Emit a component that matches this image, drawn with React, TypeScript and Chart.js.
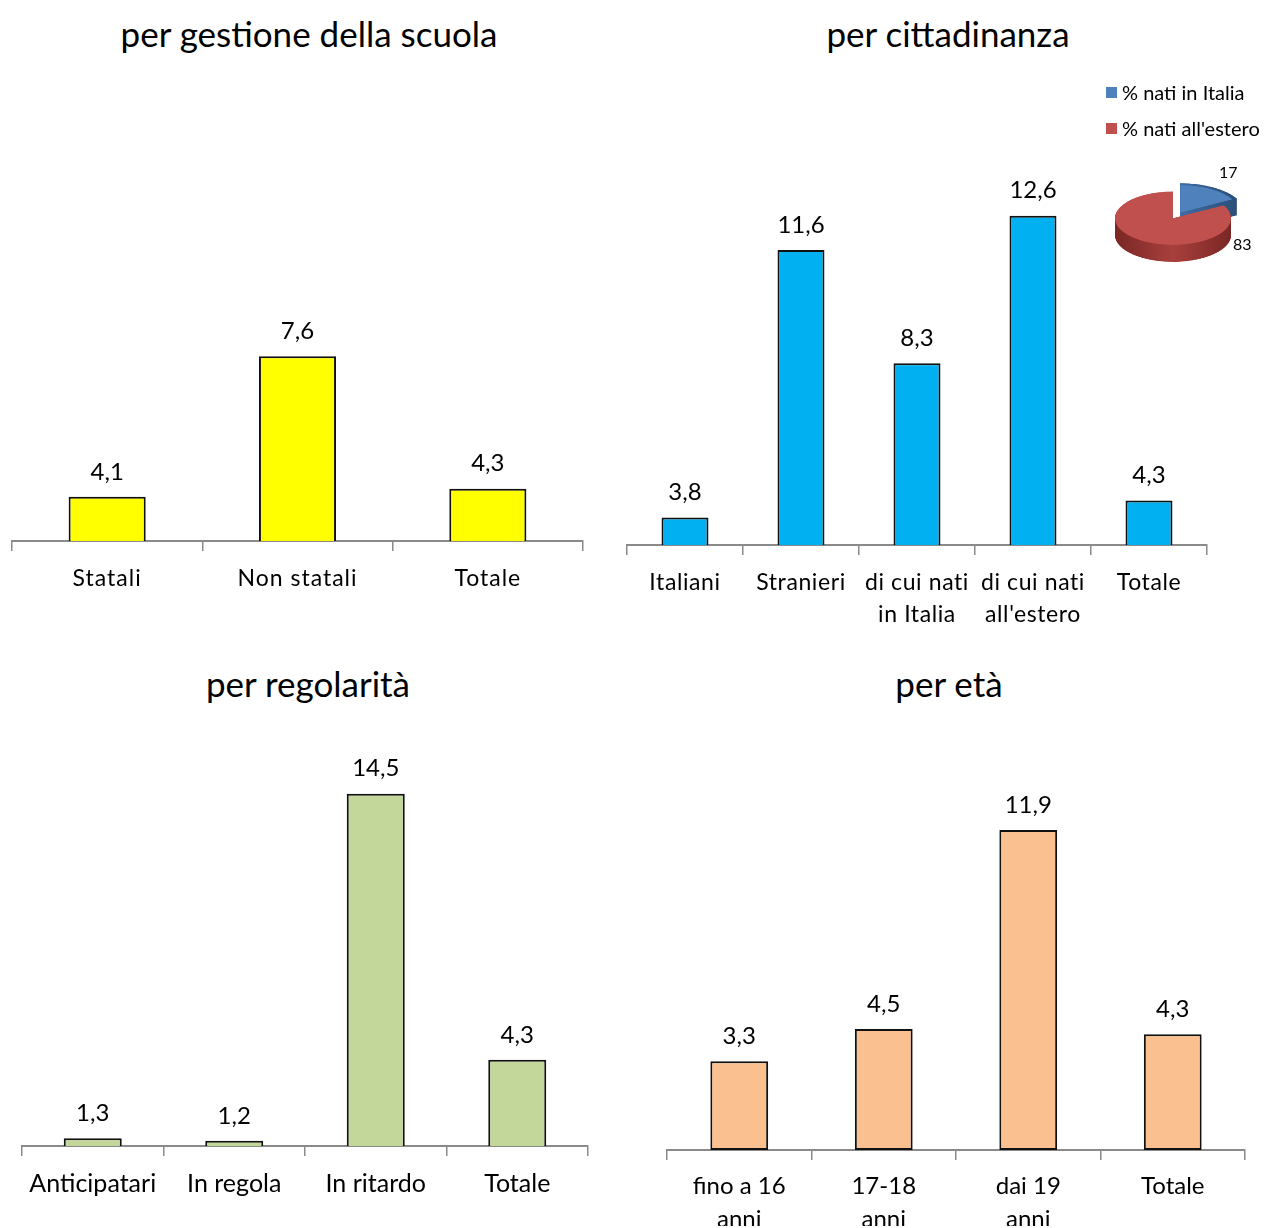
import React, { useEffect, useRef } from 'react';
import { Chart, registerables } from 'chart.js';

Chart.register(...registerables);

const FONT = "Lato, 'Open Sans', sans-serif";

// ---- data ----
const gestioneLabels = ['Statali', 'Non statali', 'Totale'];
const gestioneValues = [4.1, 7.6, 4.3];

const cittadinanzaLabels: (string | string[])[] = ['Italiani', 'Stranieri', ['di cui nati', 'in Italia'], ['di cui nati', "all'estero"], 'Totale'];
const cittadinanzaValues = [3.8, 11.6, 8.3, 12.6, 4.3];

const regolaritaLabels = ['Anticipatari', 'In regola', 'In ritardo', 'Totale'];
const regolaritaValues = [1.3, 1.2, 14.5, 4.3];

const etaLabels: (string | string[])[] = [['fino a 16', 'anni'], ['17-18', 'anni'], ['dai 19', 'anni'], 'Totale'];
const etaValues = [3.3, 4.5, 11.9, 4.3];

const pieLabels = ['% nati in Italia', "% nati all'estero"];
const pieValues = [17, 83];

const titles = ['per gestione della scuola', 'per cittadinanza', 'per regolarità', 'per età'];

// ---- helpers ----
const fmt = (v: number) => v.toFixed(1).replace('.', ',');

const makeValueLabelPlugin = (size: number) => ({
  id: 'valueLabels',
  afterDatasetsDraw(chart: any) {
    const ctx = chart.ctx;
    const ds = chart.data.datasets[0];
    const meta = chart.getDatasetMeta(0);
    ctx.save();
    ctx.letterSpacing = '0px';
    ctx.font = `${size}px ${FONT}`;
    ctx.fillStyle = '#000';
    ctx.textAlign = 'center';
    ctx.textBaseline = 'middle';
    meta.data.forEach((bar: any, i: number) => {
      ctx.fillText(fmt(ds.data[i]), bar.x, bar.y - 25);
    });
    ctx.restore();
  },
});

const makeSpacingPlugin = (ls: number) => ({
  id: 'tickSpacing',
  beforeDraw(chart: any) {
    chart.ctx.letterSpacing = `${ls}px`;
  },
});

const PIE_DEPTH = 37;
const PIE_EXPLODE = 56;
const pieColors = ['#4F81BD', '#C0504D'];
const pieSideDark = ['#2a4a72', '#7a2725'];
const pieSideLight = ['#3e6ba3', '#a8403d'];

const pie3dPlugin = {
  id: 'pie3d',
  beforeDatasetsDraw(chart: any) {
    const ctx = chart.ctx;
    const meta = chart.getDatasetMeta(0);
    meta.data.forEach((arc: any, i: number) => {
      const p = arc.getProps(['x', 'y', 'startAngle', 'endAngle', 'outerRadius', 'circumference'], true);
      const off = arc.options.offset || 0;
      const half = (p.startAngle + p.endAngle) / 2;
      const fix = 1 - Math.sin(Math.min(Math.PI, p.circumference || 0));
      const r = p.outerRadius + off * fix;
      const cx = p.x + (Math.cos(half) * off) / 4;
      const cy = p.y + (Math.sin(half) * off) / 4;
      const g = ctx.createLinearGradient(cx - r, 0, cx + r, 0);
      g.addColorStop(0, pieSideDark[i]);
      g.addColorStop(0.5, pieSideLight[i]);
      g.addColorStop(1, pieSideDark[i]);
      ctx.save();
      ctx.fillStyle = g;
      for (let d = PIE_DEPTH; d > 0; d -= 1) {
        ctx.beginPath();
        ctx.moveTo(cx, cy + d);
        ctx.arc(cx, cy + d, r, p.startAngle, p.endAngle);
        ctx.closePath();
        ctx.fill();
      }
      ctx.restore();
    });
  },
};

type PanelProps = {
  rect: [number, number, number, number];
  area: [number, number, number, number];
  axisH: number;
  labels: (string | string[])[];
  values: number[];
  color: string;
  yMin: number;
  yMax: number;
  barPct: number;
  tickSize: number;
  tickPad: number;
  spacing: number;
  valueSize: number;
};

function BarPanel(props: PanelProps) {
  const ref = useRef<HTMLCanvasElement>(null);
  useEffect(() => {
    const { rect, area, axisH, labels, values, color, yMin, yMax, barPct, tickSize, tickPad, spacing, valueSize } = props;
    const [rx, ry, rw, rh] = rect;
    const [al, at, ar, ab] = area;
    const chart = new Chart(ref.current!, {
      type: 'bar',
      data: {
        labels,
        datasets: [
          {
            data: values,
            backgroundColor: color,
            borderColor: '#111',
            borderWidth: 2,
            borderSkipped: false,
            categoryPercentage: 1,
            barPercentage: barPct,
          },
        ],
      },
      options: {
        responsive: false,
        animation: false,
        events: [],
        layout: {
          padding: { left: al - rx, top: at - ry, right: rx + rw - ar, bottom: ry + rh - ab - axisH },
        },
        plugins: { legend: { display: false }, title: { display: false }, tooltip: { enabled: false } },
        scales: {
          x: {
            offset: true,
            grid: {
              display: true,
              offset: true,
              drawOnChartArea: false,
              drawTicks: true,
              tickLength: 10,
              color: '#8a8a8a',
              lineWidth: 1.5,
            },
            border: { display: true, color: '#8a8a8a', width: 2 },
            ticks: {
              font: { family: FONT, size: tickSize, lineHeight: 1.4 },
              color: '#000',
              padding: tickPad,
              maxRotation: 0,
              autoSkip: false,
            },
            afterFit: (s: any) => {
              s.height = axisH;
            },
          },
          y: { display: false, min: yMin, max: yMax },
        },
      } as any,
      plugins: [makeSpacingPlugin(spacing), makeValueLabelPlugin(valueSize)],
    });
    return () => chart.destroy();
  }, []);
  const [x, y, w, h] = props.rect;
  return <canvas ref={ref} width={w} height={h} style={{ position: 'absolute', left: x, top: y, width: w, height: h }} />;
}

function PieInset() {
  const ref = useRef<HTMLCanvasElement>(null);
  useEffect(() => {
    const chart = new Chart(ref.current!, {
      type: 'pie',
      data: {
        labels: pieLabels,
        datasets: [
          {
            data: pieValues,
            backgroundColor: pieColors,
            borderWidth: 0,
            offset: [PIE_EXPLODE, 0],
            hoverOffset: 0,
          },
        ],
      },
      options: {
        responsive: false,
        animation: false,
        events: [],
        layout: { padding: { top: 10, right: 18, bottom: PIE_DEPTH, left: 0 } },
        plugins: { legend: { display: false }, tooltip: { enabled: false } },
      } as any,
      plugins: [pie3dPlugin],
    });
    return () => chart.destroy();
  }, []);
  // chart area: 172 x 172 -> radius (172 - 56)/2 = 58
  return (
    <div
      style={{
        position: 'absolute',
        left: 1087,
        top: 174,
        width: 190,
        height: 219,
        transform: 'scaleY(0.46)',
        transformOrigin: '0 0',
      }}
    >
      <canvas ref={ref} width={190} height={219} style={{ width: 190, height: 219 }} />
    </div>
  );
}

function Title({ text, cx, cy }: { text: string; cx: number; cy: number }) {
  return (
    <div
      style={{
        position: 'absolute',
        left: cx - 300,
        top: cy - 22,
        width: 600,
        lineHeight: '44px',
        fontSize: 35,
        fontFamily: FONT,
        textAlign: 'center',
        color: '#000',
        whiteSpace: 'nowrap',
      }}
    >
      {text}
    </div>
  );
}

export default function App() {
  const legendRow = (i: number, top: number) => (
    <div key={i} style={{ position: 'absolute', left: 1106, top, height: 22, display: 'flex', alignItems: 'center', fontFamily: FONT, fontSize: 20, color: '#000', whiteSpace: 'nowrap' }}>
      <span style={{ display: 'inline-block', width: 11, height: 11, background: pieColors[i], marginRight: 5 }} />
      {pieLabels[i]}
    </div>
  );
  return (
    <div style={{ position: 'absolute', left: 0, top: 0, width: 1264, height: 1228, background: '#fff', overflow: 'hidden' }}>
      <Title text={titles[0]} cx={309} cy={33} />
      <Title text={titles[1]} cx={948} cy={33} />
      <Title text={titles[2]} cx={308} cy={683} />
      <Title text={titles[3]} cx={949} cy={683} />

      <BarPanel rect={[0, 0, 616, 640]} area={[12, 99, 583, 541]} axisH={90} labels={gestioneLabels} values={gestioneValues} color="#FFFF00" yMin={3} yMax={14} barPct={0.405} tickSize={23} tickPad={11} spacing={1} valueSize={24} />
      <BarPanel rect={[616, 0, 648, 645]} area={[627, 99, 1207, 545]} axisH={90} labels={cittadinanzaLabels} values={cittadinanzaValues} color="#00B0F0" yMin={3} yMax={16} barPct={0.405} tickSize={23} tickPad={11} spacing={0.6} valueSize={24} />
      <BarPanel rect={[0, 645, 632, 583]} area={[22, 754.5, 588, 1146]} axisH={80} labels={regolaritaLabels} values={regolaritaValues} color="#C4D79B" yMin={1} yMax={16} barPct={0.41} tickSize={25} tickPad={10} spacing={0} valueSize={24} />
      <BarPanel rect={[632, 645, 632, 583]} area={[667, 746.5, 1245, 1150]} axisH={76} labels={etaLabels} values={etaValues} color="#FAC090" yMin={0} yMax={15} barPct={0.40} tickSize={24} tickPad={9} spacing={0} valueSize={24} />

      {legendRow(0, 81)}
      {legendRow(1, 117)}
      <PieInset />
      <div style={{ position: 'absolute', left: 1219, top: 162, fontFamily: FONT, fontSize: 16, lineHeight: '20px', color: '#000' }}>{pieValues[0]}</div>
      <div style={{ position: 'absolute', left: 1233, top: 234, fontFamily: FONT, fontSize: 16, lineHeight: '20px', color: '#000' }}>{pieValues[1]}</div>
    </div>
  );
}
